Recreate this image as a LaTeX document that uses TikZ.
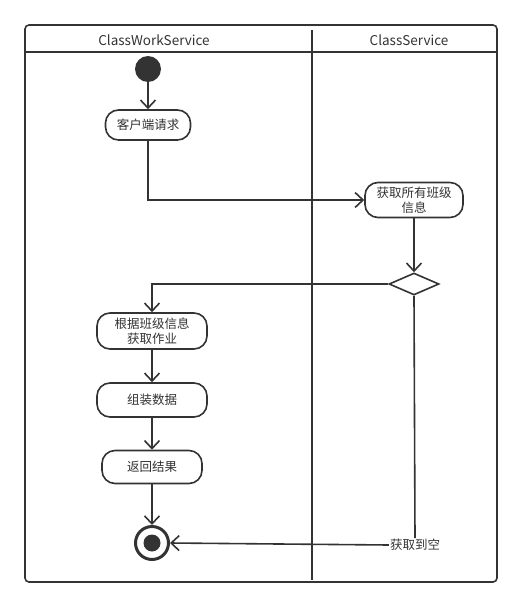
\documentclass[tikz,border=0pt]{standalone}
\usepackage{fontspec}
\setmainfont{Noto Sans CJK SC}
\usetikzlibrary{arrows.meta,shapes.geometric}
\definecolor{ink}{HTML}{333333}
\tikzset{
  act/.style={draw=ink, line width=1.6pt, rounded corners=13pt, fill=white, text=ink, font=\fontsize{12.5}{15}\selectfont, align=center, inner sep=2pt},
  flow/.style={draw=ink, line width=1.6pt, -{Straight Barb[length=8pt,width=15pt,line width=1.6pt]}},
  plain/.style={draw=ink, line width=1.6pt},
  hdr/.style={text=ink, font=\fontsize{13.5}{16}\selectfont}
}
\begin{document}
\begin{tikzpicture}[x=1pt,y=-1pt]
\useasboundingbox (0,0) rectangle (523,608);
% frame
\draw[ink, line width=1.6pt, rounded corners=4pt] (25,25) rectangle (497,582);
\draw[ink, line width=1.6pt] (25,52) -- (497,52);
\draw[ink, line width=1.6pt] (312,30) -- (312,580);
\node[hdr] (h1) at (154,40) {ClassWorkService};
\node[hdr] (h2) at (409,40) {ClassService};
% nodes
\node[circle, fill=ink, minimum size=26pt, inner sep=0pt] (start) at (148,69) {};
\node[act, minimum width=85pt, minimum height=30pt] (req) at (148,125) {客户端请求};
\node[act, minimum width=98pt, minimum height=35pt] (getall) at (414,200) {获取所有班级\\信息};
\node[diamond, draw=ink, line width=1.6pt, fill=white, minimum width=50pt, minimum height=22pt, inner sep=0pt, aspect=2.2] (dec) at (414,284) {};
\node[act, minimum width=110pt, minimum height=36pt] (byinfo) at (152,331) {根据班级信息\\获取作业};
\node[act, minimum width=110pt, minimum height=34pt] (assemble) at (152,400) {组装数据};
\node[act, minimum width=100pt, minimum height=33pt] (ret) at (152,467) {返回结果};
\node[circle, draw=ink, line width=3pt, minimum size=33pt, inner sep=0pt] (end) at (152,543) {};
\node[circle, fill=ink, minimum size=17pt, inner sep=0pt] (endin) at (152,543) {};
\node[text=ink, font=\fontsize{12.5}{15}\selectfont, fill=white, inner sep=1pt] (empty) at (415,545) {获取到空};
% connectors
\draw[flow] (start) -- (req);
\draw[flow] (req.south) |- (getall.west);
\draw[flow] (getall) -- (dec.north);
\draw[flow] (dec.west) -| (byinfo.north);
\draw[flow] (byinfo) -- (assemble);
\draw[flow] (assemble) -- (ret);
\draw[flow] (ret) -- (end);
\draw[plain] (dec.south) -- (empty.north);
\draw[flow] (empty.west) -- (end.east);
\end{tikzpicture}
\end{document}
